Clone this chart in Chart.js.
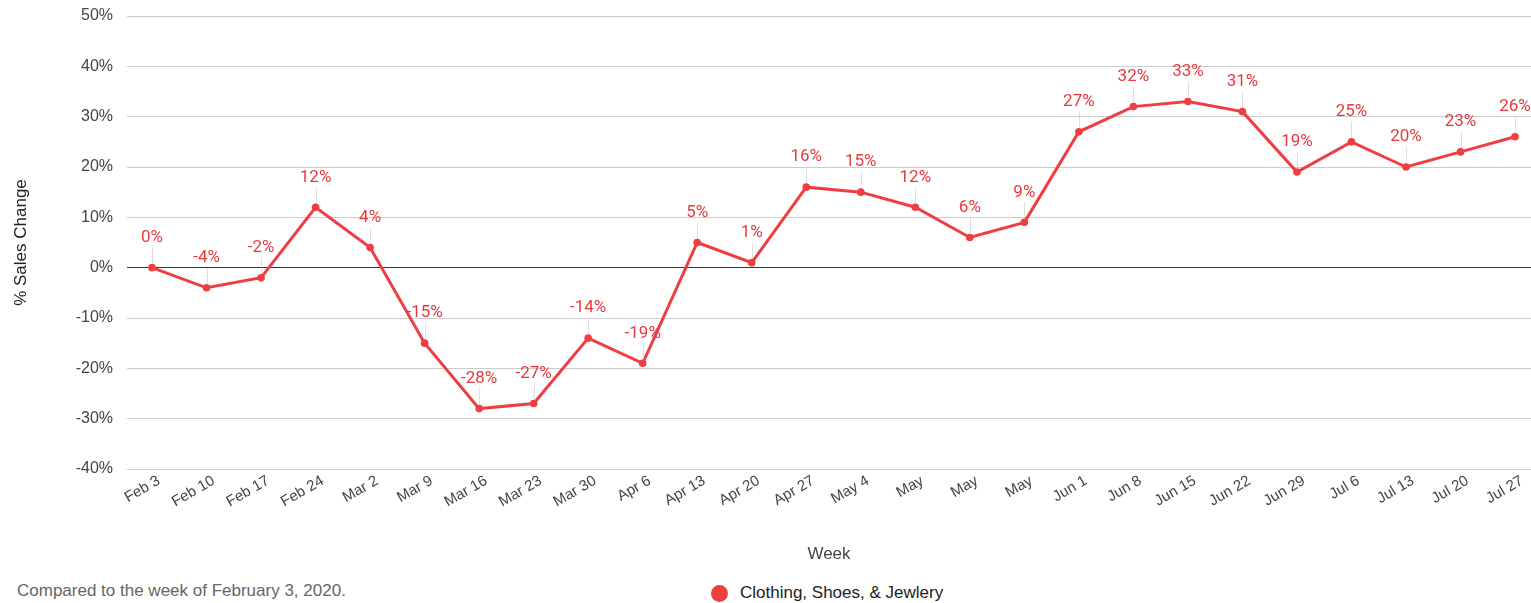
<!DOCTYPE html>
<html>
<head>
<meta charset="utf-8">
<script src="https://cdn.jsdelivr.net/npm/chart.js@4.4.1/dist/chart.umd.min.js"></script>
<style>
  html, body { margin: 0; padding: 0; background: #fff; overflow: hidden; }
  #wrap { position: relative; width: 1531px; height: 603px; overflow: hidden; }
  #c { position: absolute; left: 0; top: 0; }
  #note { position: absolute; left: 17px; top: 581px; font: 17px "Liberation Sans", Arial, sans-serif; color: #666; }
  #legend { position: absolute; left: 711px; top: 583px; font: 17px "Liberation Sans", Arial, sans-serif; color: #222; display: flex; align-items: center; }
  #legend .dot { width: 17px; height: 17px; border-radius: 50%; background: #ef3e42; margin-right: 12px; }
</style>
</head>
<body>
<div id="wrap">
  <canvas id="c" width="1535" height="575"></canvas>
  <div id="note">Compared to the week of February 3, 2020.</div>
  <div id="legend"><span class="dot"></span><span>Clothing, Shoes, &amp; Jewlery</span></div>
</div>
<script>
const weekLabels = ["Feb 3","Feb 10","Feb 17","Feb 24","Mar 2","Mar 9","Mar 16","Mar 23","Mar 30","Apr 6","Apr 13","Apr 20","Apr 27","May 4","May","May","May","Jun 1","Jun 8","Jun 15","Jun 22","Jun 29","Jul 6","Jul 13","Jul 20","Jul 27"];
const salesChange = [0,-4,-2,12,4,-15,-28,-27,-14,-19,5,1,16,15,12,6,9,27,32,33,31,19,25,20,23,26];
const seriesName = "Clothing, Shoes, & Jewlery";
const yTicks = [-40,-30,-20,-10,0,10,20,30,40,50];

const RED = '#ef3e42';
const labelPlugin = {
  id: 'valueLabels',
  afterDatasetsDraw(chart) {
    const ctx = chart.ctx;
    const meta = chart.getDatasetMeta(0);
    ctx.save();
    meta.data.forEach((pt, i) => {
      const x = pt.x, y = pt.y;
      ctx.strokeStyle = 'rgba(200,200,200,0.6)';
      ctx.lineWidth = 1;
      ctx.beginPath();
      ctx.moveTo(Math.round(x) + 0.5, y - 4);
      ctx.lineTo(Math.round(x) + 0.5, y - 20);
      ctx.stroke();
      ctx.font = '17px Roboto, "Liberation Sans", sans-serif';
      ctx.fillStyle = '#e8393f';
      ctx.textAlign = 'center';
      ctx.textBaseline = 'middle';
      ctx.fillText(salesChange[i] + '%', x, y - 30);
    });
    ctx.restore();
  }
};

new Chart(document.getElementById('c'), {
  type: 'line',
  data: {
    datasets: [{
      label: seriesName,
      data: salesChange.map((v, i) => ({x: i, y: v})),
      borderColor: RED,
      backgroundColor: RED,
      borderWidth: 3,
      pointRadius: 3.8,
      pointBorderWidth: 0,
      pointBackgroundColor: RED,
      tension: 0
    }]
  },
  options: {
    responsive: false,
    animation: false,
    layout: { padding: { top: 16, bottom: 10, left: 0, right: 0 } },
    plugins: { legend: { display: false }, tooltip: { enabled: false } },
    scales: {
      x: {
        type: 'linear',
        min: -0.459,
        max: 25.293,
        grid: { display: false },
        border: { display: false },
        afterFit(scale) { scale.height = 96; scale.paddingLeft = 0; scale.paddingRight = 0; },
        ticks: {
          stepSize: 1,
          includeBounds: false,
          autoSkip: false,
          minRotation: 30,
          maxRotation: 30,
          padding: -5,
          labelOffset: 7,
          color: '#444',
          font: { family: '"Liberation Sans", Arial, sans-serif', size: 15 },
          callback: (v) => Number.isInteger(v) && weekLabels[v] !== undefined ? weekLabels[v] : ''
        },
        title: {
          display: true,
          text: 'Week',
          color: '#444',
          font: { family: '"Liberation Sans", Arial, sans-serif', size: 17 },
          padding: { top: 0, bottom: 0 }
        }
      },
      y: {
        min: -40,
        max: 50,
        afterFit(scale) { scale.width = 127; scale.paddingTop = 0; scale.paddingBottom = 0; },
        afterBuildTicks(scale) { scale.ticks = yTicks.map(v => ({value: v})); },
        border: { display: false },
        grid: {
          drawTicks: false,
          color: (c) => c.tick && c.tick.value === 0 ? '#333' : '#ccc',
          lineWidth: 1
        },
        ticks: {
          padding: 14,
          color: '#444',
          font: { family: '"Liberation Sans", Arial, sans-serif', size: 16 },
          callback: (v) => v + '%'
        },
        title: {
          display: true,
          text: '% Sales Change',
          color: '#222',
          font: { family: '"Liberation Sans", Arial, sans-serif', size: 17 },
          padding: { top: 11, bottom: 0 }
        }
      }
    }
  },
  plugins: [labelPlugin]
});
</script>
</body>
</html>
